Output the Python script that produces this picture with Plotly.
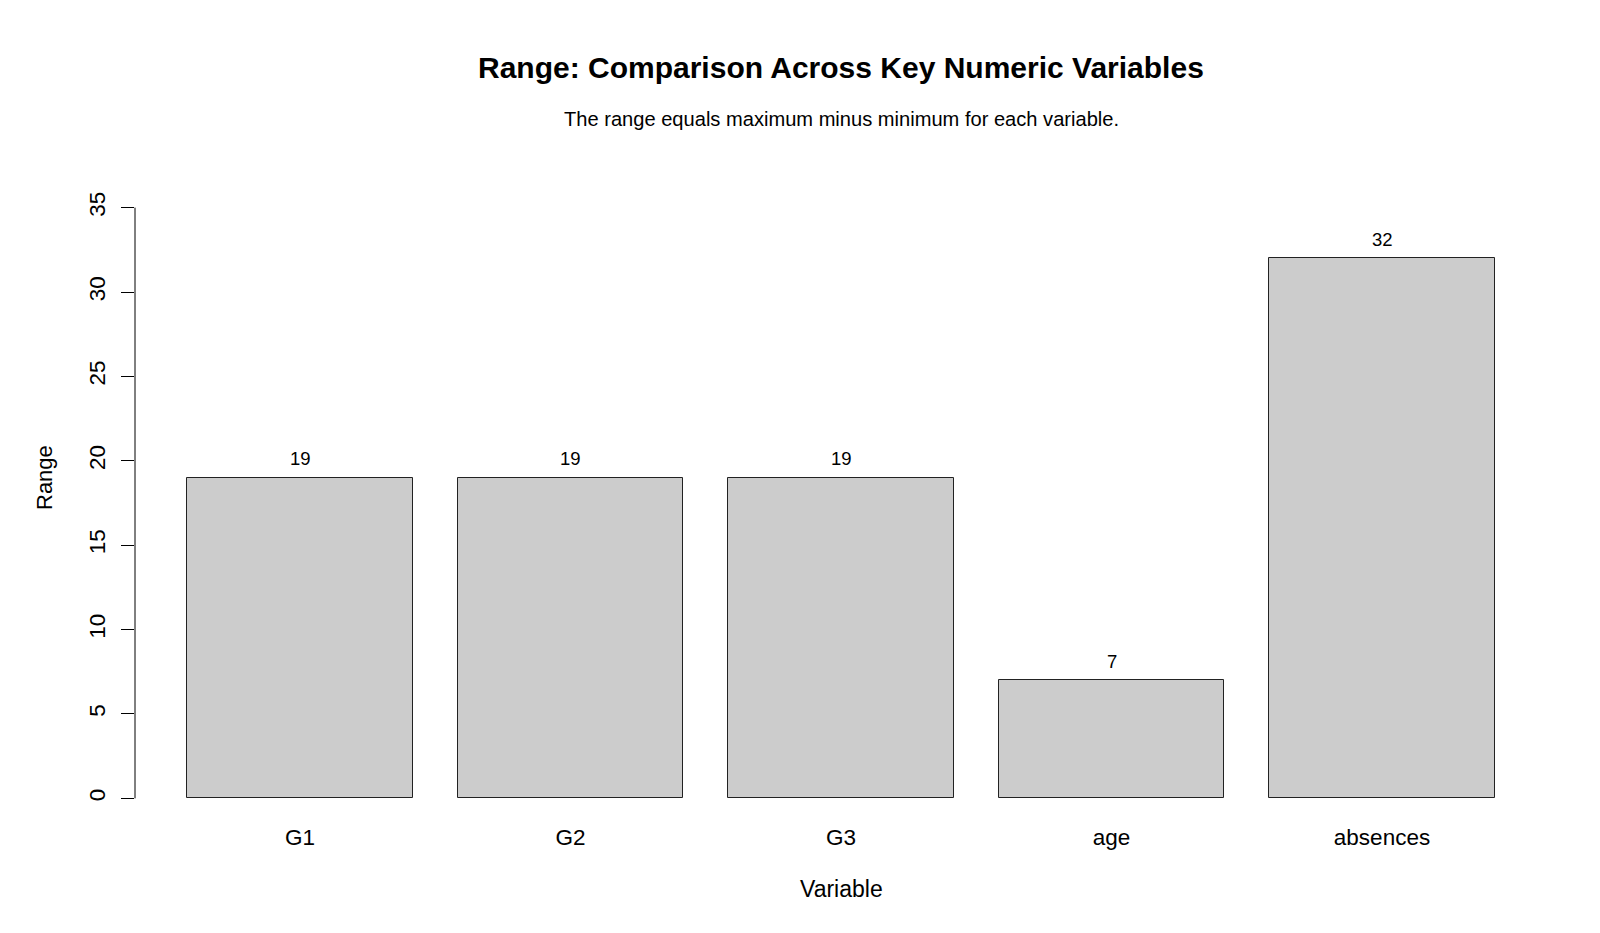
import plotly.graph_objects as go

categories = ["G1", "G2", "G3", "age", "absences"]
ranges = [19, 19, 19, 7, 32]
y_ticks = [0, 5, 10, 15, 20, 25, 30, 35]

title_text = "Range: Comparison Across Key Numeric Variables"
subtitle_text = "The range equals maximum minus minimum for each variable."
x_title = "Variable"
y_title = "Range"

# R barplot geometry: width 1, space 0.2
bar_w = 1.0
space = 0.2
centers = [space + i * (bar_w + space) + bar_w / 2 for i in range(len(categories))]
x_lo = space
x_hi = len(categories) * (bar_w + space)
x_ext = 0.04 * (x_hi - x_lo)
y_lo, y_hi = 0, max(y_ticks)
y_ext = 0.04 * (y_hi - y_lo)

FONT = "Liberation Sans, Arial, sans-serif"

fig = go.Figure()
fig.add_trace(go.Bar(
    x=centers, y=ranges, width=bar_w,
    marker=dict(color="#CCCCCC", line=dict(color="#222222", width=1)),
    hoverinfo="skip", showlegend=False,
))

annotations = []
for c, v in zip(centers, ranges):
    annotations.append(dict(
        x=c, y=v, xref="x", yref="y", text=str(v), showarrow=False,
        yanchor="middle", yshift=19, font=dict(family=FONT, size=18.5, color="black"),
    ))

BOTTOM = 822
W_PLOT = 1412
H_PLOT = 638
annotations += [
    dict(text="<b>" + title_text + "</b>", xref="paper", yref="paper", x=0.5, y=(BOTTOM - 67.5) / H_PLOT,
         xanchor="center", yanchor="middle", showarrow=False,
         font=dict(family=FONT, size=30, color="black")),
    dict(text=subtitle_text, xref="paper", yref="paper", x=0.5, y=(BOTTOM - 118.5) / H_PLOT,
         xanchor="center", yanchor="middle", showarrow=False,
         font=dict(family=FONT, size=20.1, color="black")),
    dict(text=x_title, xref="paper", yref="paper", x=0.5, y=(BOTTOM - 889) / H_PLOT,
         xanchor="center", yanchor="middle", showarrow=False,
         font=dict(family=FONT, size=23, color="black")),
    dict(text=y_title, xref="paper", yref="paper", x=(44 - 135) / W_PLOT, y=(BOTTOM - 478) / H_PLOT,
         xanchor="center", yanchor="middle", showarrow=False, textangle=-90,
         font=dict(family=FONT, size=22, color="black")),
]

fig.add_shape(type="line", xref="paper", yref="y", x0=0, x1=0, y0=min(y_ticks), y1=max(y_ticks),
              line=dict(color="black", width=1))

fig.update_layout(
    width=1600, height=933,
    margin=dict(l=135, r=53, t=184, b=933 - BOTTOM, pad=0),
    paper_bgcolor="white", plot_bgcolor="white",
    annotations=annotations,
    bargap=0,
    xaxis=dict(
        range=[x_lo - x_ext, x_hi + x_ext], tickmode="array", tickvals=centers, ticktext=categories,
        showgrid=False, zeroline=False, showline=False, ticks="",
        tickfont=dict(family=FONT, size=22.5, color="black"), ticklabelstandoff=-1,
    ),
    yaxis=dict(
        range=[y_lo - y_ext, y_hi + y_ext], tickmode="array", tickvals=y_ticks,
        showgrid=False, zeroline=False, showline=False, ticks="outside", ticklen=13,
        tickcolor="black", tickwidth=1, tickangle=-90,
        tickfont=dict(family=FONT, size=22.5, color="black"), ticklabelstandoff=7,
    ),
)

fig.write_html("out.html")
